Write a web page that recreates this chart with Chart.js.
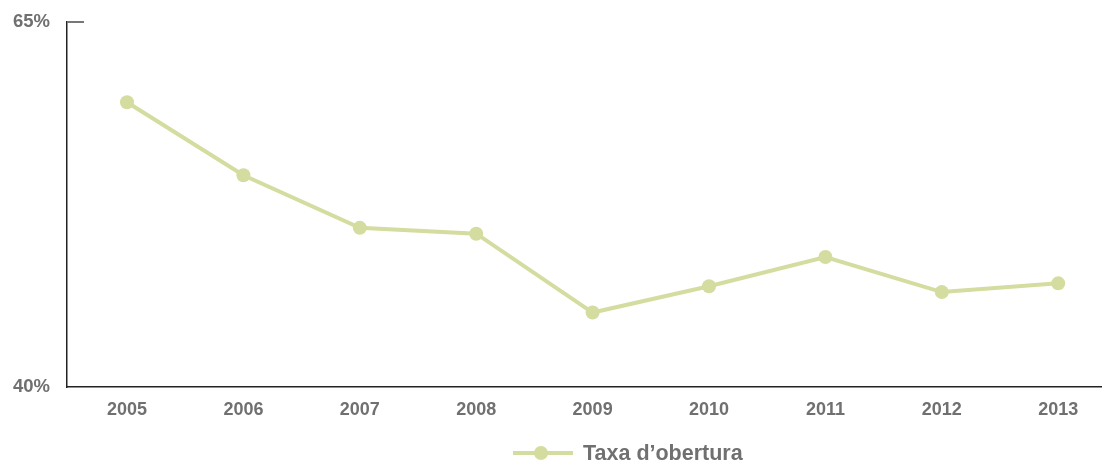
<!DOCTYPE html>
<html>
<head>
<meta charset="utf-8">
<script src="https://cdn.jsdelivr.net/npm/chart.js@4"></script>
<style>
  html, body { margin: 0; padding: 0; background: #fff; }
  #wrap { position: relative; width: 1102px; height: 461px; }
  #legend { position: absolute; left: 513px; top: 439px; height: 28px; display: flex; align-items: center;
    font-family: "Liberation Sans", Arial, sans-serif; font-weight: bold; font-size: 21.5px; color: #707070; }
  #legend .sym { position: relative; width: 60px; height: 14px; margin-right: 10px; }
  #legend .sym .ln { position: absolute; left: 0; right: 0; top: 5px; height: 4px; background: #d5dc9f; }
  #legend .sym .pt { position: absolute; left: 21px; top: 0; width: 14px; height: 14px; border-radius: 50%; background: #d5dc9f; }
</style>
</head>
<body>
<div id="wrap">
  <canvas id="chart" width="1102" height="461"></canvas>
  <div id="legend"><span class="sym"><span class="ln"></span><span class="pt"></span></span><span id="legend-text"></span></div>
</div>
<script>
const years = [2005, 2006, 2007, 2008, 2009, 2010, 2011, 2012, 2013];
const rates = [59.5, 54.5, 50.9, 50.5, 45.1, 46.9, 48.9, 46.5, 47.1];
const yTicks = [40, 65];
const seriesName = "Taxa d\u2019obertura";

const lineColor = "#d5dc9f";
const textColor = "#707070";

document.getElementById("legend-text").textContent = seriesName;

// short grey mark at the top of the y axis
const topMark = {
  id: "topMark",
  afterDraw(chart) {
    const y = chart.scales.y.getPixelForValue(yTicks[yTicks.length - 1]);
    const x = chart.chartArea.left;
    const ctx = chart.ctx;
    ctx.save();
    ctx.strokeStyle = "#777";
    ctx.lineWidth = 2;
    ctx.beginPath();
    ctx.moveTo(x, y);
    ctx.lineTo(x + 17, y);
    ctx.stroke();
    ctx.restore();
  },
};

new Chart(document.getElementById("chart"), {
  type: "line",
  data: {
    datasets: [
      {
        label: seriesName,
        data: years.map((yr, i) => ({ x: yr, y: rates[i] })),
        borderColor: lineColor,
        backgroundColor: lineColor,
        borderWidth: 4,
        pointRadius: 7,
        pointHoverRadius: 7,
        pointBorderWidth: 0,
        tension: 0,
      },
    ],
  },
  options: {
    responsive: false,
    animation: false,
    layout: { autoPadding: false, padding: { top: 22, right: 0, left: 0, bottom: 0 } },
    plugins: { legend: { display: false }, tooltip: { enabled: false } },
    scales: {
      x: {
        type: "linear",
        min: 2004.4845,
        max: 2013.376,
        afterFit: (s) => { s.height = 74; s.paddingLeft = 0; s.paddingRight = 0; },
        afterBuildTicks: (s) => { s.ticks = years.map((v) => ({ value: v })); },
        grid: { display: false, drawTicks: false },
        border: { color: "#222", width: 1.5 },
        ticks: {
          padding: 12,
          color: textColor,
          font: { family: "Liberation Sans", size: 18, weight: "bold" },
          callback: (v) => String(v),
        },
      },
      y: {
        min: 40,
        max: 65,
        afterFit: (s) => { s.width = 67; s.paddingTop = 0; s.paddingBottom = 0; },
        afterBuildTicks: (s) => { s.ticks = yTicks.map((v) => ({ value: v })); },
        grid: { display: false, drawTicks: false },
        border: { color: "#222", width: 1.5 },
        ticks: {
          padding: 17,
          color: textColor,
          font: { family: "Liberation Sans", size: 18.5, weight: "bold" },
          callback: (v) => v + "%",
        },
      },
    },
  },
  plugins: [topMark],
});
</script>
</body>
</html>
